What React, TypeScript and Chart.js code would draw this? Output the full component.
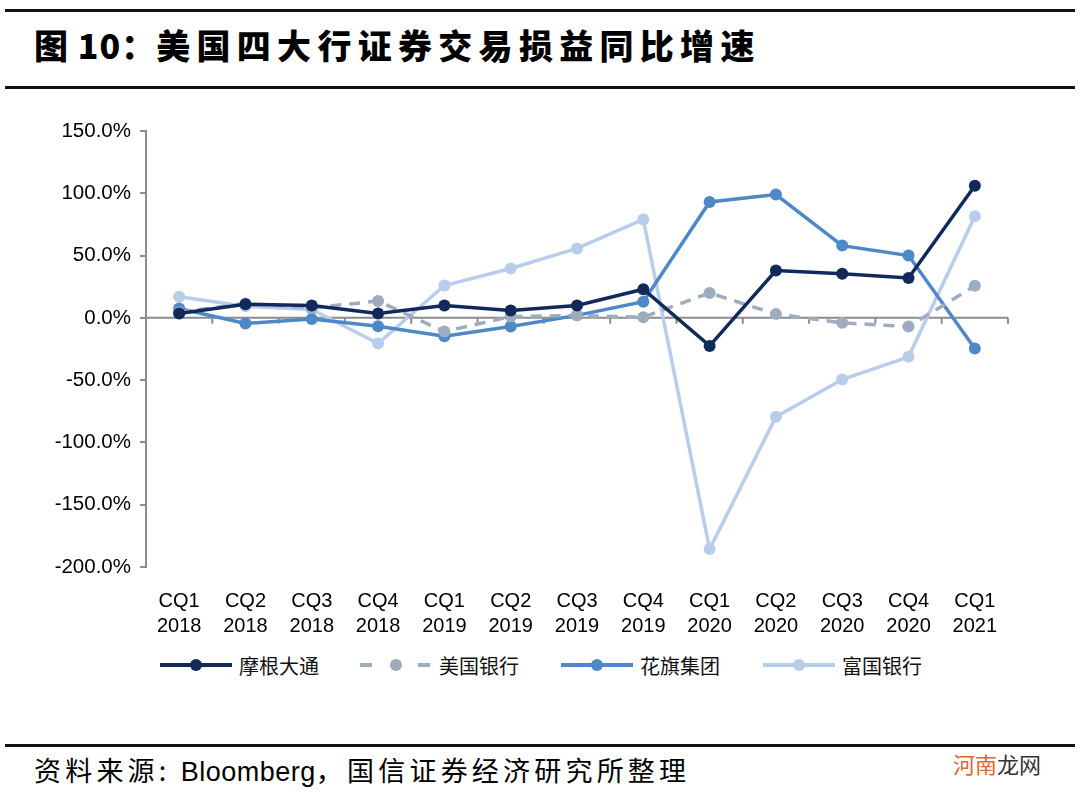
import React, { useEffect, useRef } from "react";
import { Chart, registerables } from "chart.js";

Chart.register(...registerables);

const categories: string[][] = [
  ["CQ1", "2018"], ["CQ2", "2018"], ["CQ3", "2018"], ["CQ4", "2018"],
  ["CQ1", "2019"], ["CQ2", "2019"], ["CQ3", "2019"], ["CQ4", "2019"],
  ["CQ1", "2020"], ["CQ2", "2020"], ["CQ3", "2020"], ["CQ4", "2020"],
  ["CQ1", "2021"],
];

const jpm: number[] = [3.5, 11, 10, 3.5, 10, 6, 10, 23, -22.5, 38, 35.5, 32, 106];
const bofa: number[] = [4.5, 11.5, 8, 13.5, -11, 1, 2, 0.5, 20, 3, -4, -7, 25.7];
const citi: number[] = [7.5, -4.5, -1, -6.7, -14.7, -7, 2, 13, 93, 99, 58, 50, -24.6];
const wells: number[] = [17, 9.4, 6.7, -20.6, 26, 39.6, 55.7, 79, -185.6, -79.4, -49.5, -31.3, 81.6];

const seriesNames: string[] = ["摩根大通", "美国银行", "花旗集团", "富国银行"];
const seriesColors: string[] = ["#12295c", "#9dadbf", "#4e88c8", "#b8cdec"];

const yMin = -200;
const yMax = 150;
const yStep = 50;

const zeroAxisPlugin = {
  id: "zeroAxis",
  beforeDatasetsDraw(chart: any) {
    const { ctx, chartArea, scales } = chart;
    const y0 = scales.y.getPixelForValue(0);
    const n = categories.length;
    const w = (chartArea.right - chartArea.left) / n;
    ctx.save();
    ctx.strokeStyle = "#8c8c8c";
    ctx.lineWidth = 2;
    ctx.beginPath();
    ctx.moveTo(chartArea.left, y0);
    ctx.lineTo(chartArea.right, y0);
    for (let i = 1; i <= n; i++) {
      const x = chartArea.left + i * w;
      ctx.moveTo(x, y0);
      ctx.lineTo(x, y0 + 6);
    }
    ctx.stroke();
    ctx.restore();
  },
};

function LegendItem({ left, color, dashed, label }: { left: number; color: string; dashed?: boolean; label: string }) {
  return (
    <div style={{ position: "absolute", left, top: 652, height: 26, display: "flex", alignItems: "center" }}>
      <div style={{ position: "relative", width: 72, height: 26 }}>
        {dashed ? (
          <>
            <div style={{ position: "absolute", left: 0, top: 11, width: 12, height: 4, background: color }} />
            <div style={{ position: "absolute", left: 58, top: 11, width: 12, height: 4, background: color }} />
          </>
        ) : (
          <div style={{ position: "absolute", left: 0, top: 11, width: 72, height: 4, background: color }} />
        )}
        <div style={{ position: "absolute", left: 30, top: 7, width: 12, height: 12, borderRadius: 6, background: color }} />
      </div>
      <span style={{ marginLeft: 7, fontSize: 20, fontFamily: "'Noto Sans CJK SC', sans-serif", color: "#111", whiteSpace: "nowrap" }}>{label}</span>
    </div>
  );
}

export default function App() {
  const canvasRef = useRef<HTMLCanvasElement | null>(null);

  useEffect(() => {
    if (!canvasRef.current) return;
    const data = [jpm, bofa, citi, wells];
    const chart = new Chart(canvasRef.current, {
      type: "line",
      data: {
        labels: categories,
        datasets: data.map((d, i) => ({
          label: seriesNames[i],
          data: d,
          borderColor: seriesColors[i],
          backgroundColor: seriesColors[i],
          pointBackgroundColor: seriesColors[i],
          pointBorderColor: seriesColors[i],
          borderWidth: 3.5,
          pointRadius: 6,
          pointBorderWidth: 0,
          borderDash: i === 1 ? [11, 8] : [],
          tension: 0,
          fill: false,
        })),
      },
      options: {
        animation: false,
        responsive: false,
        maintainAspectRatio: false,
        layout: { padding: { left: 0, right: 72, top: 31, bottom: 0 } },
        plugins: { legend: { display: false }, tooltip: { enabled: false } },
        scales: {
          x: {
            offset: true,
            grid: { display: false },
            border: { display: false },
            ticks: {
              color: "#000",
              padding: 14,
              maxRotation: 0,
              autoSkip: false,
              font: { family: "Arial, 'Liberation Sans', sans-serif", size: 20, lineHeight: 1.25 },
            },
            afterFit(scale: any) {
              scale.height = 73;
            },
          },
          y: {
            min: yMin,
            max: yMax,
            ticks: {
              stepSize: yStep,
              color: "#000",
              padding: 9,
              font: { family: "Arial, 'Liberation Sans', sans-serif", size: 20.5 },
              callback: (v: any) => Number(v).toFixed(1) + "%",
            },
            grid: { drawOnChartArea: false, drawTicks: true, tickLength: 6, color: "#8c8c8c", lineWidth: 2 },
            border: { display: true, color: "#8c8c8c", width: 2 },
            afterFit(scale: any) {
              scale.width = 146;
            },
          },
        },
      },
      plugins: [zeroAxisPlugin],
    });
    return () => chart.destroy();
  }, []);

  return (
    <div style={{ position: "fixed", left: 0, top: 0, width: 1080, height: 796, background: "#fff", overflow: "hidden" }}>
      <div style={{ position: "absolute", left: 5, top: 9, width: 1070, height: 3, background: "#111" }} />
      <div
        style={{
          position: "absolute",
          left: 34,
          top: 22,
          fontSize: 34,
          fontWeight: 900,
          fontFamily: "'Noto Sans CJK SC', sans-serif",
          color: "#000",
          whiteSpace: "nowrap",
          lineHeight: "46px",
        }}
      >
        <span style={{ letterSpacing: 1 }}>图 10：</span>
        <span style={{ letterSpacing: 6.3 }}>美国四大行证券交易损益同比增速</span>
      </div>
      <div style={{ position: "absolute", left: 5, top: 86, width: 1070, height: 3, background: "#111" }} />
      <canvas ref={canvasRef} width={1080} height={540} style={{ position: "absolute", left: 0, top: 100, width: 1080, height: 540 }} />
      <LegendItem left={160} color={seriesColors[0]} label={seriesNames[0]} />
      <LegendItem left={360} color={seriesColors[1]} dashed label={seriesNames[1]} />
      <LegendItem left={561} color={seriesColors[2]} label={seriesNames[2]} />
      <LegendItem left={763} color={seriesColors[3]} label={seriesNames[3]} />
      <div style={{ position: "absolute", left: 5, top: 744, width: 1070, height: 3, background: "#111" }} />
      <div
        style={{
          position: "absolute",
          left: 34,
          top: 752,
          fontSize: 27,
          letterSpacing: 4.2,
          fontFamily: "'Noto Sans CJK SC', sans-serif",
          color: "#000",
          whiteSpace: "nowrap",
          lineHeight: "36px",
        }}
      >
        资料来源: <span style={{ fontFamily: "Arial, 'Liberation Sans', sans-serif", letterSpacing: 0.5 }}>Bloomberg</span>，国信证券经济研究所整理
      </div>
      <div
        style={{
          position: "absolute",
          left: 953,
          top: 748,
          fontSize: 22,
          fontFamily: "'Noto Sans CJK SC', sans-serif",
          whiteSpace: "nowrap",
          lineHeight: "30px",
        }}
      >
        <span style={{ color: "#e3662a" }}>河南</span>
        <span style={{ color: "#333" }}>龙网</span>
      </div>
    </div>
  );
}
